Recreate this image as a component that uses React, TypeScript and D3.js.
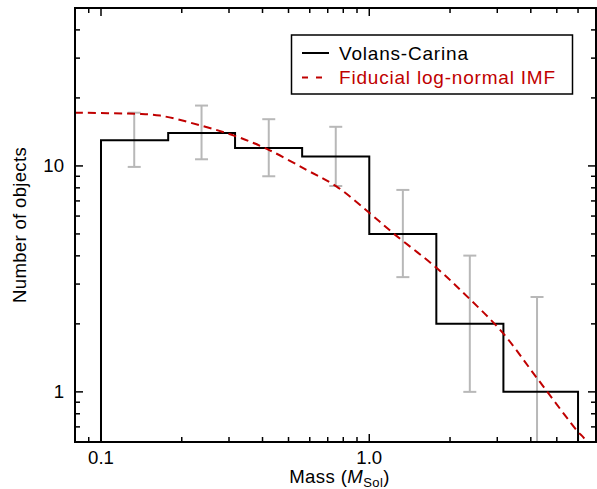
import React from "react";
import * as d3 from "d3";

const binEdges = [0.1, 0.178, 0.316, 0.562, 1.0, 1.778, 3.162, 6.0];
const counts = [13, 14, 12, 11, 5, 2, 1];
const errCenters = [0.133, 0.237, 0.422, 0.75, 1.334, 2.37, 4.22];
const errLow = [9.9, 10.7, 9.0, 8.15, 3.22, 1.0, 0.01];
const errHigh = [17.2, 18.5, 16.1, 14.9, 7.83, 4.01, 2.63];

const curveMass = [0.08, 0.134, 0.166, 0.24, 0.32, 0.415, 0.584, 0.756, 1.0, 1.23, 1.78, 2.35, 3.15, 4.22, 6.0, 6.26, 6.8];
const curveN = [17.2, 17.0, 16.7, 15.0, 13.5, 11.9, 9.6, 8.1, 6.2, 5.03, 3.54, 2.6, 1.82, 1.15, 0.665, 0.632, 0.56];

const xMajor = [0.1, 1.0];
const xMajorLabels = ["0.1", "1.0"];
const xMinor = [0.09, 0.2, 0.3, 0.4, 0.5, 0.6, 0.7, 0.8, 0.9, 2, 3, 4, 5, 6];
const yMajor = [1, 10];
const yMajorLabels = ["1", "10"];
const yMinor = [0.7, 0.8, 0.9, 2, 3, 4, 5, 6, 7, 8, 9, 20, 30, 40];

const legendLabels = ["Volans-Carina", "Fiducial log-normal IMF"];

const W = 597;
const H = 489;
const L = 75;
const R = 596;
const T = 8;
const B = 442;
const RED = "#c00000";
const GRAY = "#b8b8b8";
const FONT = "'Liberation Sans', Arial, Helvetica, sans-serif";

export default function App() {
  const x = d3.scaleLog().domain([0.08, 7.0]).range([L, R]);
  const y = d3.scaleLog().domain([0.6, 50]).range([B, T]);

  const pts: [number, number][] = [];
  pts.push([x(binEdges[0]), B]);
  counts.forEach((c, i) => {
    pts.push([x(binEdges[i]), y(c)]);
    pts.push([x(binEdges[i + 1]), y(c)]);
  });
  pts.push([x(binEdges[binEdges.length - 1]), B]);
  const histPath = d3.line()(pts) || "";

  const curvePath =
    d3
      .line<number>()
      .x((_, i) => x(curveMass[i]))
      .y((d) => y(d))
      .curve(d3.curveCatmullRom.alpha(0.5))(curveN) || "";

  const major = 8;
  const minor = 5;

  return (
    <svg
      width={W}
      height={H}
      style={{ position: "absolute", left: 0, top: 0, background: "#fff" }}
      fontFamily={FONT}
    >
      <defs>
        <clipPath id="plotclip">
          <rect x={L} y={T} width={R - L} height={B - T} />
        </clipPath>
      </defs>
      <rect x={0} y={0} width={W} height={H} fill="#fff" />
      <g clipPath="url(#plotclip)">
        {errCenters.map((m, i) => {
          const cx = x(m);
          return (
            <g key={"e" + i} stroke={GRAY} strokeWidth={2} fill="none">
              <line x1={cx} x2={cx} y1={y(errLow[i])} y2={y(errHigh[i])} />
              <line x1={cx - 6.5} x2={cx + 6.5} y1={y(errHigh[i])} y2={y(errHigh[i])} />
              <line x1={cx - 6.5} x2={cx + 6.5} y1={y(errLow[i])} y2={y(errLow[i])} />
            </g>
          );
        })}
        <path d={histPath} fill="none" stroke="#000" strokeWidth={2} />
        <path d={curvePath} fill="none" stroke={RED} strokeWidth={2} strokeDasharray="8,5" />
      </g>

      <g stroke="#000" strokeWidth={1.5}>
        {xMajor.map((v, i) => (
          <g key={"xM" + i}>
            <line x1={x(v)} x2={x(v)} y1={B} y2={B - major} />
            <line x1={x(v)} x2={x(v)} y1={T} y2={T + major} />
          </g>
        ))}
        {xMinor.map((v, i) => (
          <g key={"xm" + i}>
            <line x1={x(v)} x2={x(v)} y1={B} y2={B - minor} />
            <line x1={x(v)} x2={x(v)} y1={T} y2={T + minor} />
          </g>
        ))}
        {yMajor.map((v, i) => (
          <g key={"yM" + i}>
            <line x1={L} x2={L + major} y1={y(v)} y2={y(v)} />
            <line x1={R} x2={R - major} y1={y(v)} y2={y(v)} />
          </g>
        ))}
        {yMinor.map((v, i) => (
          <g key={"ym" + i}>
            <line x1={L} x2={L + minor} y1={y(v)} y2={y(v)} />
            <line x1={R} x2={R - minor} y1={y(v)} y2={y(v)} />
          </g>
        ))}
      </g>
      <rect x={L} y={T} width={R - L} height={B - T} fill="none" stroke="#000" strokeWidth={2} />

      <g fontSize={18.6} fill="#000">
        {xMajor.map((v, i) => (
          <text key={"xl" + i} x={x(v)} y={464} textAnchor="middle">
            {xMajorLabels[i]}
          </text>
        ))}
        {yMajor.map((v, i) => (
          <text key={"yl" + i} x={64} y={y(v)} dy="0.35em" textAnchor="end">
            {yMajorLabels[i]}
          </text>
        ))}
      </g>

      <text x={(L + R) / 2 + 4} y={483} textAnchor="middle" fontSize={18.6} letterSpacing={0.4}>
        Mass (<tspan fontStyle="italic">M</tspan>
        <tspan fontSize={13} dy={4}>Sol</tspan>
        <tspan dy={-4}>)</tspan>
      </text>
      <text
        transform={`translate(25.5,225) rotate(-90)`}
        textAnchor="middle"
        fontSize={18.6}
        letterSpacing={0.3}
      >
        Number of objects
      </text>

      <rect x={291.5} y={35} width={281} height={59} fill="#fff" stroke="#000" strokeWidth={1.5} />
      <line x1={302} x2={329} y1={53} y2={53} stroke="#000" strokeWidth={2} />
      <line x1={302} x2={329} y1={77.5} y2={77.5} stroke={RED} strokeWidth={2} strokeDasharray="6,8" />
      <text x={339} y={53} dy="0.35em" fontSize={19} letterSpacing={0.8} fill="#000">
        {legendLabels[0]}
      </text>
      <text x={339} y={77.5} dy="0.35em" fontSize={19} letterSpacing={0.8} fill={RED}>
        {legendLabels[1]}
      </text>
    </svg>
  );
}
